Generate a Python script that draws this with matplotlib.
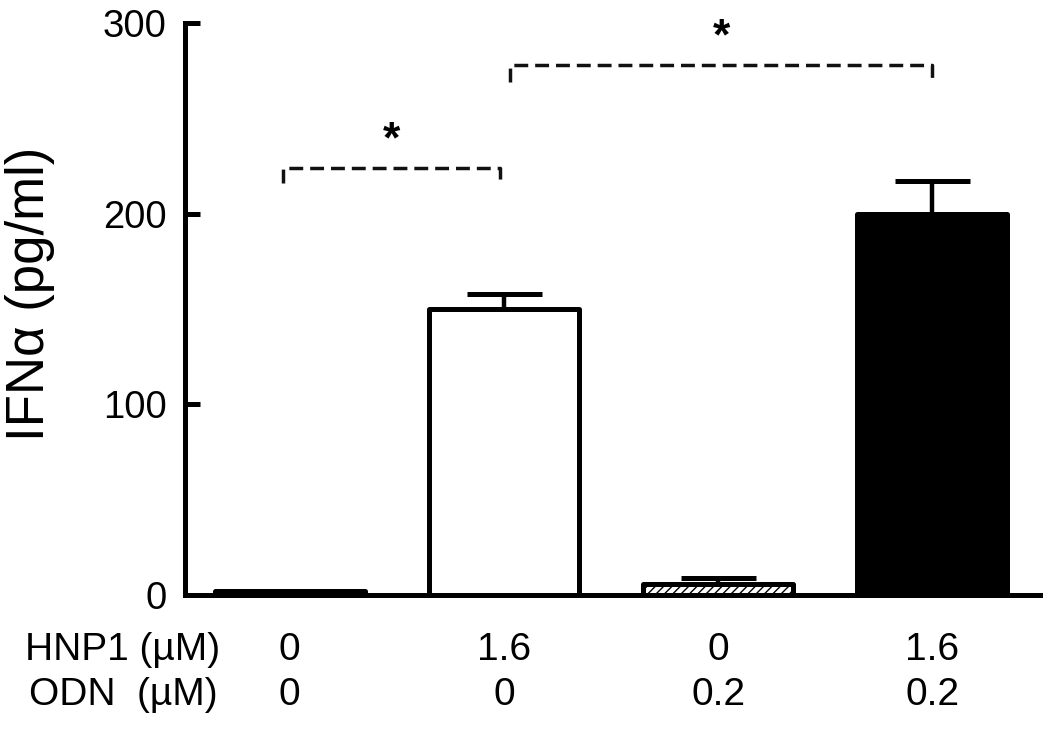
import matplotlib
matplotlib.use("Agg")
import matplotlib.pyplot as plt
import matplotlib.transforms as mtransforms

plt.rcParams['font.family'] = ['Liberation Sans', 'DejaVu Sans']

# Data
hnp1 = ["0", "1.6", "0", "1.6"]
odn = ["0", "0", "0.2", "0.2"]
values = [2, 150, 6, 200]
errors = [0, 8, 3, 17]
facecolors = ["white", "white", "white", "black"]
hatches = [None, None, "////", None]
yticks = [0, 100, 200, 300]
row_labels = ["HNP1 (\u00b5M)", "ODN  (\u00b5M)"]
# significance brackets: (x_start, x_end, y_line, y_tick_end)
brackets = [(-0.03, 0.98, 224, 216), (1.03, 3.0, 278, 269)]
star_y = [238, 292]

fig = plt.figure(figsize=(10.5, 7.31), dpi=100)
ax = fig.add_axes([0.176, 0.186, 0.814, 0.7825])

x = list(range(len(values)))
for i in x:
    ax.bar(i, values[i], width=0.70, color=facecolors[i], edgecolor="black",
           linewidth=3.6, hatch=hatches[i], joinstyle="round", zorder=3)
    if errors[i] > 0:
        ax.errorbar(i, values[i], yerr=[[0], [errors[i]]], fmt="none",
                    ecolor="black", elinewidth=3.2, capsize=27, capthick=3.6,
                    zorder=2)

ax.set_xlim(-0.49, 3.5)
ax.set_ylim(0, 300)
ax.set_yticks(yticks)
ax.set_yticklabels([str(t) for t in yticks], fontsize=27.5)
ax.tick_params(axis="y", direction="in", length=11, width=3.6, pad=13)
ax.set_xticks([])
for s in ["top", "right"]:
    ax.spines[s].set_visible(False)
for s in ["left", "bottom"]:
    ax.spines[s].set_linewidth(3.6)
    ax.spines[s].set_capstyle("projecting")

ax.set_ylabel("IFN\u03b1 (pg/ml)", fontsize=38)
ax.yaxis.set_label_coords(-0.152, 0.527)

# significance brackets
for (x0, x1, yl, yt), sy in zip(brackets, star_y):
    ax.plot([x0, x0, x1, x1], [yt, yl, yl, yt], color="#111111", lw=2.5,
            linestyle=(0, (4.0, 2.0)), clip_on=False, zorder=4)
    ax.text((x0 + x1) / 2, sy, "*", ha="center", va="center", fontsize=32,
            fontweight="bold", clip_on=False)

# table beneath x axis
trans = mtransforms.blended_transform_factory(ax.transData, fig.transFigure)
rows_y = [1 - 650 / 731, 1 - 695 / 731]
for ry, lab, vals in zip(rows_y, row_labels, [hnp1, odn]):
    fig.text(123 / 1050, ry, lab, ha="center", va="center", fontsize=28)
    for i, v in enumerate(vals):
        ax.text(i, ry, v, transform=trans, ha="center", va="center", fontsize=28)

fig.savefig("out.png", dpi=100)
